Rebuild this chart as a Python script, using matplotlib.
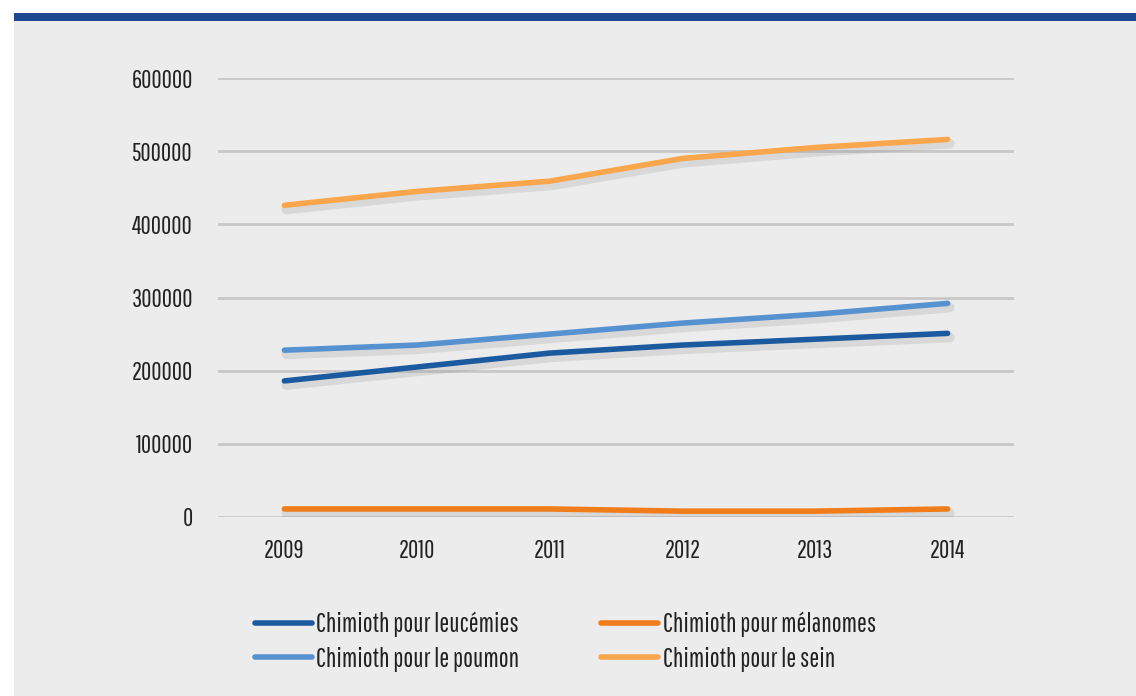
import matplotlib
matplotlib.use("Agg")
import matplotlib.pyplot as plt
import matplotlib.patheffects as pe
from matplotlib.patches import Rectangle

plt.rcParams['font.family'] = ['Pathway Gothic One', 'DejaVu Sans']

years = ['2009', '2010', '2011', '2012', '2013', '2014']
leucemies = [186000, 205000, 224000, 235000, 243000, 251000]
melanomes = [11000, 11000, 11000, 8000, 8000, 11000]
poumon = [228000, 235000, 250000, 265000, 277000, 292000]
sein = [426000, 445000, 459000, 490000, 505000, 516000]

labels = ['Chimioth pour leucémies', 'Chimioth pour mélanomes',
          'Chimioth pour le poumon', 'Chimioth pour le sein']
colors = ['#1c5aa0', '#f07c1a', '#5692cf', '#f9a64c']
series = [leucemies, melanomes, poumon, sein]

fig = plt.figure(figsize=(11.36, 6.96), dpi=100)
fig.patch.set_facecolor('white')
# grey panel and blue header band
fig.patches.append(Rectangle((14/1136, 0), 1, 1 - 21/696, transform=fig.transFigure,
                             facecolor='#ececec', edgecolor='none', zorder=-2))
fig.patches.append(Rectangle((14/1136, 1 - 21/696), 1, 8/696, transform=fig.transFigure,
                             facecolor='#1d4892', edgecolor='none', zorder=-1))

ax = fig.add_axes([218/1136, 1 - 517/696, (1014 - 218)/1136, (517 - 78)/696])
ax.set_facecolor('none')

x = list(range(len(years)))
for s, c, lab in zip(series, colors, labels):
    ax.plot(x, s, color=c, lw=4, solid_capstyle='round', label=lab,
            path_effects=[pe.SimpleLineShadow(offset=(1.5, -3), shadow_color='#888888',
                                              alpha=0.2, linewidth=7), pe.Normal()])

ax.set_xlim(-0.5, len(years) - 0.5)
ax.set_ylim(0, 600000)
ax.set_yticks(range(0, 600001, 100000))
ax.set_yticklabels([str(v) for v in range(0, 600001, 100000)])
ax.set_xticks(x)
ax.set_xticklabels(years)
ax.grid(axis='y', color='#c8c8c8', lw=2)
ax.set_axisbelow(True)
for sp in ax.spines.values():
    sp.set_visible(False)
ax.tick_params(length=0, labelsize=18, colors='#222222')
ax.tick_params(axis='y', pad=18)
ax.tick_params(axis='x', pad=16)

# legend filled row by row like the original: reorder for column-major filling
order = [0, 2, 1, 3]
leg_lines = []
for i in order:
    h, = ax.plot([], [], color=colors[i], lw=4, solid_capstyle='round')
    leg_lines.append(h)
leg = ax.legend(leg_lines, [labels[i] for i in order], loc='upper left',
                bbox_to_anchor=(37/796, -0.215), ncol=2, frameon=False,
                fontsize=19, handlelength=2.15, handletextpad=0.18, columnspacing=3.1,
                labelspacing=0.37, borderaxespad=0, borderpad=0)
for t in leg.get_texts():
    t.set_color('#222222')

fig.savefig('out.png', dpi=100)
